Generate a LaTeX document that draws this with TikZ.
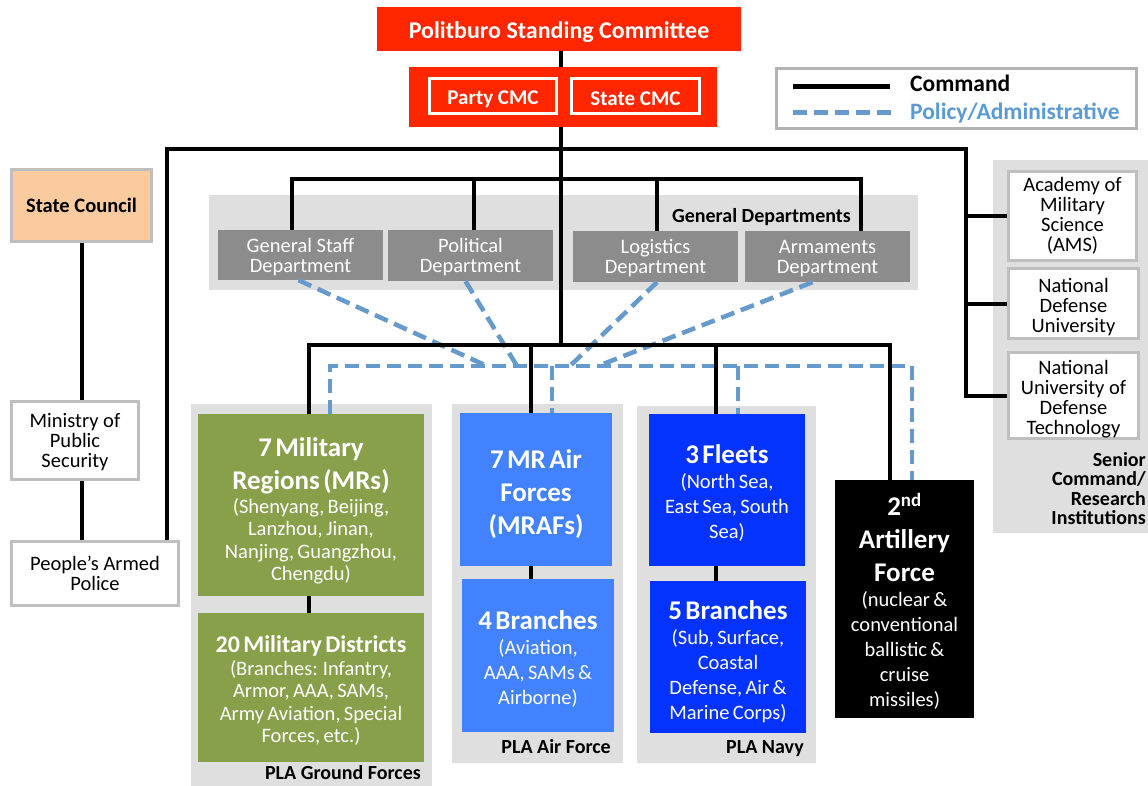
\documentclass[tikz,border=0pt]{standalone}
\usepackage{fontspec}
\setmainfont{Carlito}
\usetikzlibrary{calc}
\definecolor{pscred}{HTML}{FF2600}
\definecolor{peach}{HTML}{FACB9F}
\definecolor{bordergray}{HTML}{BFBFBF}
\definecolor{legendgray}{HTML}{B3B3B3}
\definecolor{bggray}{HTML}{DFDFDF}
\definecolor{deptgray}{HTML}{8C8C8C}
\definecolor{gfgreen}{HTML}{89A04B}
\definecolor{afblue}{HTML}{4282FF}
\definecolor{navyblue}{HTML}{0433FF}
\definecolor{policyblue}{HTML}{6699CC}
\definecolor{legendblue}{HTML}{5B9BD5}
\newcommand\tbig{\bfseries\fontsize{27}{33}\selectfont}
\newcommand\tsub{\fontsize{20.5}{22.5}\selectfont}
\newcommand\tsubb{\fontsize{20.5}{25}\selectfont}
\newcommand\lift[1]{\rule{0pt}{#1}}
\tikzset{
  cmd/.style={line width=4pt, black},
  policyline/.style={line width=4.5pt, policyblue, dash pattern=on 14pt off 7pt},
  whitebox/.style={draw=bordergray, line width=3pt, fill=white, inner sep=0pt, align=center, font=\fontsize{20.5}{20}\selectfont},
  deptbox/.style={fill=deptgray, text=white, inner sep=0pt, align=center, font=\fontsize{20.5}{20}\selectfont},
  unitbox/.style={inner sep=0pt, text=white, align=center},
  redbox/.style={fill=pscred, text=white, inner sep=0pt, font=\bfseries\fontsize{24}{24}\selectfont},
  cmcbox/.style={draw=white, line width=3pt, fill=pscred, text=white, inner sep=0pt, font=\bfseries\fontsize{21}{21}\selectfont},
  lbl/.style={font=\bfseries\fontsize{20}{19.5}\selectfont, inner sep=0pt},
  legtext/.style={font=\bfseries\fontsize{23.5}{24}\selectfont, inner sep=0pt}
}
\begin{document}
\begin{tikzpicture}[x=1pt, y=-1pt]
\useasboundingbox (0,0) rectangle (1148,786);

% background panels
\fill[bggray] (209,195) rectangle (918,290);
\fill[bggray] (993,160) rectangle (1148,533);
\fill[bggray] (191,404) rectangle (432,786);
\fill[bggray] (452,404) rectangle (623,763);
\fill[bggray] (637,406) rectangle (816,763);

% top
\node[redbox, minimum width=364pt, minimum height=44pt] (psc) at (559,29) {\lift{23.5pt}Politburo Standing Committee};
\node[fill=pscred, inner sep=0pt, minimum width=308pt, minimum height=60pt] (cmc) at (563,97) {};
\node[cmcbox, minimum width=127pt, minimum height=35pt] (pcmc) at (493,96) {\lift{19.5pt}Party CMC};
\node[cmcbox, minimum width=128pt, minimum height=35pt] (scmc) at (635.5,96) {\lift{19.5pt}State CMC};

% legend
\node[draw=legendgray, line width=3pt, fill=white, inner sep=0pt, minimum width=360pt, minimum height=60pt] (legend) at (956.5,98.5) {};
\coordinate (lc1) at (793,87);
\coordinate (lc2) at (890,87);
\coordinate (lp1) at (793,113);
\coordinate (lp2) at (897,113);
\draw[cmd, line width=5pt] (lc1) -- (lc2);
\draw[policyline, line width=5pt] (lp1) -- (lp2);
\node[legtext, anchor=base west] (lcmd) at (910,92) {Command};
\node[legtext, anchor=base west, text=legendblue] (lpol) at (910,120) {Policy/Administrative};

% left column
\node[whitebox, fill=peach, minimum width=140pt, minimum height=72pt, font=\bfseries\fontsize{20.5}{20}\selectfont] (sc) at (81.5,205.5) {State Council};
\node[whitebox, minimum width=127pt, minimum height=78pt] (mps) at (75,440.5) {\lift{17pt}Ministry of\\Public\\Security};
\node[whitebox, minimum width=167pt, minimum height=64pt] (pap) at (95,573.5) {People’s Armed\\Police};

% general departments
\node[deptbox, minimum width=165pt, minimum height=50pt] (gsd) at (300.5,255) {\lift{18pt}General Staff\\Department};
\node[deptbox, minimum width=165pt, minimum height=51pt] (pold) at (470.5,255.5) {\lift{18pt}Political\\Department};
\node[deptbox, minimum width=165pt, minimum height=51pt] (logd) at (655.5,256.5) {\lift{18pt}Logistics\\Department};
\node[deptbox, minimum width=165pt, minimum height=51pt] (armd) at (827.5,256.5) {\lift{18pt}Armaments\\Department};
\node[lbl, anchor=base east] (gdl) at (851,223) {General Departments};

% senior institutions
\node[whitebox, minimum width=128pt, minimum height=89pt] (ams) at (1072.5,216) {Academy of\\Military\\Science\\(AMS)};
\node[whitebox, minimum width=130pt, minimum height=70pt] (ndu) at (1073.5,303.5) {\lift{21pt}National\\Defense\\University};
\node[whitebox, minimum width=130pt, minimum height=86pt] (nudt) at (1073.5,395.5) {\lift{21pt}National\\University of\\Defense\\Technology};
\node[lbl, anchor=north east, align=right] (senl) at (1146,452) {Senior\\Command/\\Research\\Institutions};

% ground forces
\node[unitbox, fill=gfgreen, minimum width=226pt, minimum height=182pt, text width=220pt] (mr) at (311,505)
  {{\tbig \lift{31pt}7 Military\\Regions (MRs)\par}{\tsub \lift{18pt}(Shenyang, Beijing,\\Lanzhou, Jinan,\\Nanjing, Guangzhou,\\Chengdu)\par}};
\node[unitbox, fill=gfgreen, minimum width=226pt, minimum height=149pt, text width=220pt] (md) at (311,687.5)
  {{\bfseries\fontsize{24}{28}\selectfont \lift{23pt}20 Military Districts\par}{\tsub (Branches: Infantry,\\Armor, AAA, SAMs,\\Army Aviation, Special\\Forces, etc.)\par}};
\node[lbl, anchor=base east] (gfl) at (421,779) {PLA Ground Forces};

% air force
\node[unitbox, fill=afblue, minimum width=152pt, minimum height=153pt, text width=146pt] (mraf) at (536,489.5)
  {{\tbig \lift{29pt}7 MR Air\\Forces\\(MRAFs)\par}};
\node[unitbox, fill=afblue, minimum width=152pt, minimum height=153pt, text width=146pt] (afb) at (538,655.5)
  {{\tbig \lift{25pt}4 Branches\par}{\tsubb (Aviation,\\AAA, SAMs \&\\Airborne)\par}};
\node[lbl, anchor=base east] (afl) at (611,753) {PLA Air Force};

% navy
\node[unitbox, fill=navyblue, minimum width=156pt, minimum height=152pt, text width=150pt] (fleets) at (727,490)
  {{\tbig \lift{25pt}3 Fleets\par}{\tsubb (North Sea,\\East Sea, South\\Sea)\par}};
\node[unitbox, fill=navyblue, minimum width=156pt, minimum height=152pt, text width=150pt] (nb) at (728,657)
  {{\tbig \lift{28pt}5 Branches\par}{\tsubb (Sub, Surface,\\Coastal\\Defense, Air \&\\Marine Corps)\par}};
\node[lbl, anchor=base east] (navl) at (804,753) {PLA Navy};

% second artillery
\node[unitbox, fill=black, minimum width=139pt, minimum height=238pt, text width=133pt] (art) at (904.5,599)
  {{\tbig \lift{26pt}2\textsuperscript{nd}\\Artillery\\Force\par}{\tsubb (nuclear \&\\conventional\\ballistic \&\\cruise\\missiles)\par}};

% junction coordinates
\coordinate (jtop) at (561,149);
\coordinate (jbot) at (561,345);
\coordinate (lft) at (167,149);
\coordinate (rgt) at (966,149);
\coordinate (lx) at (82,300);
\coordinate (g1) at (292,179);
\coordinate (g2) at (474,179);
\coordinate (g3) at (657,179);
\coordinate (g4) at (861,179);
\coordinate (b1) at (309,345);
\coordinate (b2) at (531,345);
\coordinate (b3) at (716,345);
\coordinate (b4) at (890,345);
\coordinate (d1) at (330,366);
\coordinate (d2) at (552,366);
\coordinate (d3) at (738,366);
\coordinate (d4) at (912,366);
\coordinate (e1) at (487,366);
\coordinate (e2) at (517,366);
\coordinate (e3) at (570,366);
\coordinate (e4) at (598,366);

% policy / administrative lines
\draw[policyline] (mr.north -| d1) -- (d1) -- (d4) -- (art.north -| d4);
\draw[policyline] (d2) -- (mraf.north -| d2);
\draw[policyline] (d3) -- (fleets.north -| d3);
\draw[policyline] ($(gsd.south)+(-2,0)$) -- (e1);
\draw[policyline] ($(pold.south)+(-5,0)$) -- (e2);
\draw[policyline] ($(logd.south)+(1.5,0)$) -- (e3);
\draw[policyline] ($(armd.south)+(-15,0)$) -- (e4);

% command lines
\draw[cmd] (psc.south -| jtop) -- (cmc.north -| jtop);
\draw[cmd] (cmc.south -| jtop) -- (jbot);
\draw[cmd] (pap.north -| lft) -- (lft) -- (rgt) -- (rgt |- nudt.west) -- (nudt.west);
\draw[cmd] (rgt |- ams.west) -- (ams.west);
\draw[cmd] (rgt |- ndu.west) -- (ndu.west);
\draw[cmd] (gsd.north -| g1) -- (g1) -- (g4) -- (armd.north -| g4);
\draw[cmd] (g2) -- (pold.north -| g2);
\draw[cmd] (g3) -- (logd.north -| g3);
\draw[cmd] (mr.north -| b1) -- (b1) -- (b4) -- (art.north -| b4);
\draw[cmd] (b2) -- (mraf.north -| b2);
\draw[cmd] (b3) -- (fleets.north -| b3);
\draw[cmd] (mr.south -| b1) -- (md.north -| b1);
\draw[cmd] (mraf.south -| b2) -- (afb.north -| b2);
\draw[cmd] (fleets.south -| b3) -- (nb.north -| b3);
\draw[cmd] (sc.south -| lx) -- (mps.north -| lx);
\draw[cmd] (mps.south -| lx) -- (pap.north -| lx);
\end{tikzpicture}
\end{document}
